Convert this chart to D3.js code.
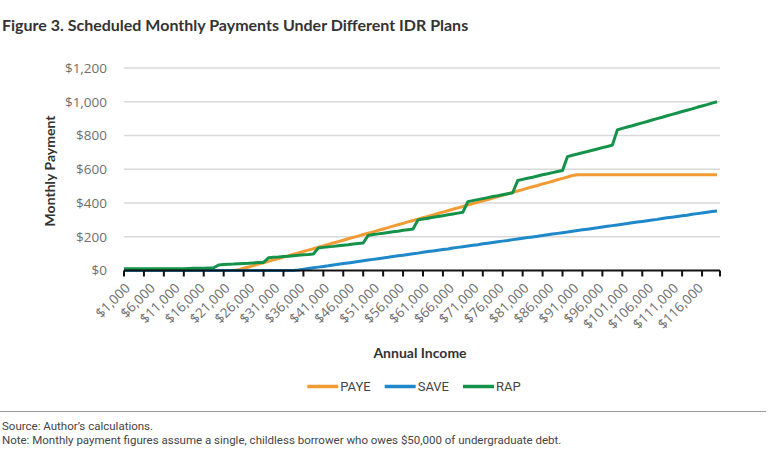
<!DOCTYPE html>
<html>
<head>
<meta charset="utf-8">
<title>Figure 3</title>
<script src="https://cdn.jsdelivr.net/npm/d3@7"></script>
<style>
	body { margin: 0; background: #fff; }
	text { font-family: "Open Sans", sans-serif; }
</style>
<script>

// annual income, in $1,000s
var incomes = [1,2,3,4,5,6,7,8,9,10,11,12,13,14,15,16,17,18,19,20,
	21,22,23,24,25,26,27,28,29,30,31,32,33,34,35,36,37,38,39,40,
	41,42,43,44,45,46,47,48,49,50,51,52,53,54,55,56,57,58,59,60,
	61,62,63,64,65,66,67,68,69,70,71,72,73,74,75,76,77,78,79,80,
	81,82,83,84,85,86,87,88,89,90,91,92,93,94,95,96,97,98,99,100,
	101,102,103,104,105,106,107,108,109,110,111,112,113,114,115,116,117,118,119,120];

var paye = [0,0,0,0,0,0,0,0,0,0,0,0,0,0,0,0,0,0,0,0,
	0,0,0,4,13,21,29,38,46,54,63,71,79,88,96,104,113,121,129,138,
	146,154,163,171,179,188,196,204,213,221,229,238,246,254,263,271,279,288,296,304,
	313,321,329,338,346,354,363,371,379,388,396,404,413,421,429,438,446,454,463,471,
	479,488,496,504,513,521,529,538,546,554,563,568,568,568,568,568,568,568,568,568,
	568,568,568,568,568,568,568,568,568,568,568,568,568,568,568,568,568,568,568,568];

var save = [0,0,0,0,0,0,0,0,0,0,0,0,0,0,0,0,0,0,0,0,
	0,0,0,0,0,0,0,0,0,0,0,0,0,0,0,3,7,12,16,20,
	24,28,33,37,41,45,49,53,58,62,66,70,74,78,83,87,91,95,99,103,
	108,112,116,120,124,128,133,137,141,145,149,153,158,162,166,170,174,178,183,187,
	191,195,199,203,208,212,216,220,224,228,233,237,241,245,249,253,258,262,266,270,
	274,278,283,287,291,295,299,303,308,312,316,320,324,328,333,337,341,345,349,353];

var rap = [10,10,10,10,10,10,10,10,10,10,10,10,11,12,13,13,14,15,16,33,
	35,37,38,40,42,43,45,47,48,75,78,80,83,85,88,90,93,95,98,133,
	137,140,143,147,150,153,157,160,163,208,213,217,221,225,229,233,238,242,246,300,
	305,310,315,320,325,330,335,340,345,408,414,420,426,432,438,443,449,455,461,533,
	540,547,553,560,567,573,580,587,593,675,683,690,698,705,713,720,728,735,743,833,
	842,850,858,867,875,883,892,900,908,917,925,933,942,950,958,967,975,983,992,1000];

var yTicks = [0,200,400,600,800,1000,1200];
var seriesNames = ["PAYE","SAVE","RAP"];
var seriesColors = ["#F29B34","#1E88CA","#15924A"];

function init()
{
	var svg = d3.select("#chart").append("svg").attr("width",768).attr("height",465);

	var x = d3.scalePoint().domain(incomes).range([124,717]);
	var y = d3.scaleLinear().domain([0,1200]).range([270.5,68]);
	var xEnd = x(incomes[incomes.length-1]) + x.step()*0.6;
	var money = d3.format("$,");

	// title
	svg.append("text").attr("x",2).attr("y",31)
		.style("font-family","Lato").style("font-weight","bold").style("font-size","16px")
		.attr("fill","#333")
		.text("Figure 3. Scheduled Monthly Payments Under Different IDR Plans");

	// gridlines + y labels
	svg.selectAll(".grid").data(yTicks.slice(1)).enter().append("line")
		.attr("x1",x.range()[0]).attr("x2",xEnd)
		.attr("y1",function(d){return y(d);}).attr("y2",function(d){return y(d);})
		.attr("stroke","#d9d9d9").attr("stroke-width",1.5);

	svg.selectAll(".ylab").data(yTicks).enter().append("text")
		.attr("x",107).attr("y",function(d){return y(d);}).attr("dy","0.36em")
		.attr("text-anchor","end").attr("fill","#6e6e6e").style("font-size","13.5px")
		.text(function(d){return money(d);});

	svg.append("text").attr("transform","translate(55,171) rotate(-90)")
		.attr("text-anchor","middle")
		.style("font-family","Lato").style("font-weight","bold").style("font-size","14px")
		.attr("fill","#333").text("Monthly Payment");

	// lines
	var series = [paye, save, rap];
	var line = d3.line()
		.x(function(d,i){return x(incomes[i]);})
		.y(function(d){return y(d);});
	series.forEach(function(s,k){
		svg.append("path").datum(s).attr("d",line)
			.attr("fill","none").attr("stroke",seriesColors[k])
			.attr("stroke-width",3).attr("stroke-linejoin","round");
	});

	// x axis
	svg.append("line").attr("x1",x.range()[0]).attr("x2",xEnd)
		.attr("y1",y(0)).attr("y2",y(0)).attr("stroke","#111").attr("stroke-width",2);
	var tickX = incomes.filter(function(d,i){return i%4===0;}).map(function(d){return x(d);});
	tickX.push(xEnd);
	svg.selectAll(".tick").data(tickX).enter().append("line")
		.attr("x1",function(d){return d;}).attr("x2",function(d){return d;})
		.attr("y1",y(0)).attr("y2",y(0)+6).attr("stroke","#111").attr("stroke-width",2);

	svg.selectAll(".xlab").data(incomes.filter(function(d,i){return i%5===0;})).enter().append("text")
		.attr("transform",function(d){return "translate("+(x(d)+7)+",289) rotate(-45)";})
		.attr("text-anchor","end").attr("fill","#6e6e6e").style("font-size","13.5px")
		.text(function(d){return money(d*1000);});

	svg.append("text").attr("x",420).attr("y",358).attr("text-anchor","middle")
		.style("font-family","Lato").style("font-weight","bold").style("font-size","14px")
		.attr("fill","#333").text("Annual Income");

	// legend
	var leg = svg.append("g");
	var lx = 0;
	seriesNames.forEach(function(n,k){
		leg.append("line").attr("x1",lx).attr("x2",lx+31).attr("y1",386.5).attr("y2",386.5)
			.attr("stroke",seriesColors[k]).attr("stroke-width",3.5);
		var t = leg.append("text").attr("x",lx+33).attr("y",391)
			.style("font-family","Roboto").style("font-size","13px").attr("fill","#444").text(n);
		lx += 33 + t.node().getComputedTextLength() + 14;
	});
	leg.attr("transform","translate("+(414-(lx-14)/2)+",0)");

	// footer
	svg.append("line").attr("x1",0).attr("x2",766).attr("y1",411.5).attr("y2",411.5)
		.attr("stroke","#999").attr("stroke-width",1);
	svg.append("text").attr("x",2).attr("y",430)
		.style("font-family","Roboto").style("font-size","11.5px").attr("fill","#444")
		.text("Source: Author\u2019s calculations.");
	svg.append("text").attr("x",2).attr("y",444)
		.style("font-family","Roboto").style("font-size","11.5px").attr("fill","#444")
		.text("Note: Monthly payment figures assume a single, childless borrower who owes $50,000 of undergraduate debt.");
}
</script>
</head>
<body onload="init()">
	<div id="chart"></div>
</body>
</html>
